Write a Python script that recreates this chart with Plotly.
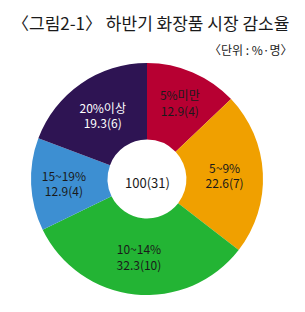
import plotly.graph_objects as go

categories = ["5%미만", "5~9%", "10~14%", "15~19%", "20%이상"]
percents = [12.9, 22.6, 32.3, 12.9, 19.3]
counts = [4, 7, 10, 4, 6]
colors = ["#B70032", "#F0A000", "#23B434", "#3D8FD2", "#2E1453"]
text_colors = ["#1a1a1a", "#1a1a1a", "#1a1a1a", "#1a1a1a", "#ffffff"]
total_label = "100(31)"

labels_text = [f"{c}<br>{p}({n})" for c, p, n in zip(categories, percents, counts)]

fig = go.Figure(go.Pie(
    labels=categories,
    values=percents,
    text=labels_text,
    textinfo="text",
    textposition="inside",
    insidetextorientation="horizontal",
    hole=0.34,
    sort=False,
    direction="clockwise",
    rotation=0,
    marker=dict(colors=colors, line=dict(width=0)),
    textfont=dict(size=12, color=text_colors, family="Liberation Sans Narrow, Arial Narrow, Noto Sans CJK KR"),
    domain=dict(x=[31/305, 263/305], y=[1-295/312, 1-63/312]),
    showlegend=False,
))

fig.add_annotation(text=total_label, x=147/305, y=1-182/312, xref="paper", yref="paper",
                   showarrow=False, font=dict(size=13, color="#1a1a1a", family="Liberation Sans Narrow, Noto Sans CJK KR"))
fig.add_annotation(text="〈그림2-1〉 하반기 화장품 시장 감소율", x=10/305, y=1-23/312, xref="paper", yref="paper",
                   xanchor="left", yanchor="middle", showarrow=False,
                   font=dict(size=17, color="#1a1a1a", family="Noto Sans CJK KR"))
fig.add_annotation(text="〈단위 : %·명〉", x=295/305, y=1-50/312, xref="paper", yref="paper",
                   xanchor="right", yanchor="middle", showarrow=False,
                   font=dict(size=12, color="#1a1a1a", family="Noto Sans CJK KR"))

fig.update_layout(width=305, height=312, margin=dict(l=0, r=0, t=0, b=0),
                  paper_bgcolor="white", plot_bgcolor="white")
fig.write_html("out.html")
